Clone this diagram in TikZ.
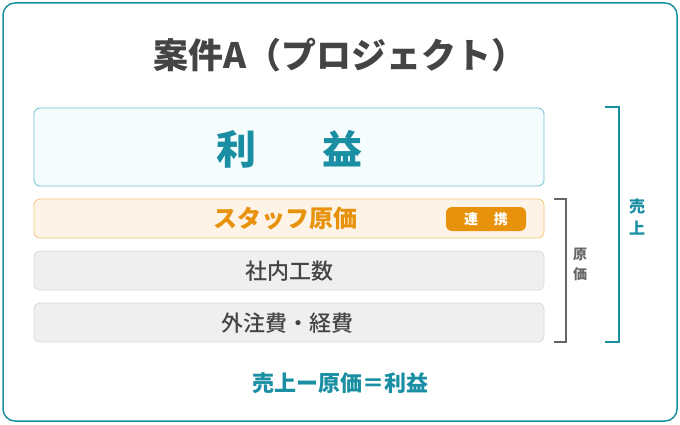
\documentclass[tikz,border=0pt]{standalone}
\usepackage{fontspec}
\setmainfont{Noto Sans CJK JP}
\newfontfamily\cjk{Noto Sans CJK JP}
\newfontfamily\cjkm{Noto Sans CJK JP Medium}
\begin{document}
\begin{tikzpicture}[x=1pt,y=-1pt,
  every node/.style={inner sep=0pt,outer sep=0pt,font=\cjk},
  layer/.style={draw,rounded corners=6pt,line width=0.8pt},
  fs/.style={font=\cjk\bfseries\fontsize{#1}{#1}\selectfont},
  fm/.style={font=\cjkm\fontsize{#1}{#1}\selectfont}]
\definecolor{teal1}{HTML}{1A8FA3}
\definecolor{teallt}{HTML}{6EC3D1}
\definecolor{tealfill}{HTML}{F5FCFD}
\definecolor{orange1}{HTML}{E8920C}
\definecolor{orangelt}{HTML}{F7C77E}
\definecolor{orangefill}{HTML}{FDF3E6}
\definecolor{grayfill}{HTML}{EFEFEF}
\definecolor{grayln}{HTML}{DADADA}
\definecolor{txt}{HTML}{444444}
\definecolor{brk}{HTML}{666666}
\useasboundingbox (0,0) rectangle (680,425);
\draw[teal1,line width=1.5pt,rounded corners=12pt,fill=white] (3,3) rectangle (677,421);
\node[fs=35,text=txt] (title) at (340,55) {案件A（プロジェクト）};
\draw[layer,draw=teallt,fill=tealfill] (34,108) rectangle (544,186);
\node[fs=40,text=teal1] (profit) at (289,149) {利\hspace{66pt}益};
\draw[layer,draw=orangelt,fill=orangefill] (34,199) rectangle (544,238);
\node[fs=24,text=orange1] (staff) at (285,219) {スタッフ原価};
\draw[fill=orange1,draw=none,rounded corners=6pt] (446,207) rectangle (526,231);
\node[fs=14,text=white] (badge) at (486,219) {連\hspace{16pt}携};
\draw[layer,draw=grayln,fill=grayfill] (34,251) rectangle (544,290);
\node[fm=22,text=txt] (internal) at (289,271) {社内工数};
\draw[layer,draw=grayln,fill=grayfill] (34,303) rectangle (544,342);
\node[fm=22,text=txt] (outs) at (287,323) {外注費・経費};
\draw[brk,line width=1.5pt] (554,199) -- (566,199) -- (566,342) -- (554,342);
\node[fs=14,text=brk,align=center] (cost) at (580,264) {原\\[6pt]価};
\draw[teal1,line width=2pt] (605,107) -- (619,107) -- (619,342) -- (605,342);
\node[fs=16,text=teal1,align=center] (sales) at (637,217) {売\\[6pt]上};
\node[fs=22,text=teal1] (formula) at (340,383) {売上ー原価＝利益};
\end{tikzpicture}
\end{document}
